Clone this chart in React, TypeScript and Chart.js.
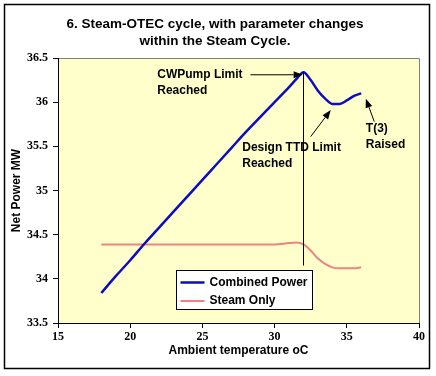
import React, { useEffect, useRef } from 'react';
import { Chart, registerables } from 'chart.js';

Chart.register(...registerables);

// ---- data ----
const temps = [18, 19, 20, 21, 22, 23, 24, 25, 26, 27, 28, 29, 30, 31, 31.5, 32, 32.5, 33, 33.5, 34, 34.5, 35, 35.5, 36];
const combinedPower = [33.84, 34.03, 34.21, 34.4, 34.58, 34.76, 34.94, 35.12, 35.3, 35.48, 35.66, 35.83, 36.0, 36.17, 36.26, 36.34, 36.25, 36.13, 36.04, 35.98, 35.98, 36.02, 36.07, 36.1];
const steamOnly = [34.39, 34.39, 34.39, 34.39, 34.39, 34.39, 34.39, 34.39, 34.39, 34.39, 34.39, 34.39, 34.39, 34.405, 34.41, 34.39, 34.32, 34.23, 34.17, 34.13, 34.12, 34.12, 34.12, 34.13];
const seriesLabels = ['Combined Power', 'Steam Only'];
const seriesColors = ['#0c0cc4', '#f08282'];

const titleLines = ['6. Steam-OTEC cycle, with parameter changes', 'within the Steam Cycle.'];
const xTitle = 'Ambient temperature oC';
const yTitle = 'Net Power MW';
const xRange = [15, 40];
const yRange = [33.5, 36.5];

// annotations (data coordinates)
const peakLineX = [32, 32];
const peakLineY = [36.34, 34.15];
const cwArrowX = [28.33, 31.94];
const cwArrowY = [36.31, 36.31];
const ttdArrowX = [32.5, 33.89];
const ttdArrowY = [35.61, 35.91];
const t3ArrowX = [36.9, 36.32];
const t3ArrowY = [35.78, 36.04];
const noteTexts = [['CWPump Limit', 'Reached'], ['Design TTD Limit', 'Reached'], ['T(3)', 'Raised']];
const noteX = [21.875, 27.76, 36.32];
const noteY = [36.308, 35.48, 35.7];
const legendPos = [23.2, 34.1]; // top-left in data coords

const SANS = '"Liberation Sans", Arial, sans-serif';
const SERIF = '"Liberation Serif", "Times New Roman", serif';

const decorPlugin = {
  id: 'decor',
  beforeDraw(chart: any) {
    const { ctx, chartArea: a, width, height } = chart;
    ctx.save();
    ctx.fillStyle = '#ffffff';
    ctx.fillRect(0, 0, width, height);
    ctx.fillStyle = '#ffffcc';
    ctx.fillRect(a.left, a.top, a.right - a.left, a.bottom - a.top);
    ctx.strokeStyle = '#000';
    ctx.lineWidth = 1.5;
    ctx.strokeRect(4.5, 4.5, 425, 364);
    // title
    ctx.fillStyle = '#000';
    ctx.font = `bold 13.5px ${SANS}`;
    ctx.textAlign = 'center';
    ctx.textBaseline = 'middle';
    ctx.fillText(titleLines[0], 215, 24);
    ctx.fillText(titleLines[1], 215, 41);
    // gray top/right plot border
    ctx.strokeStyle = '#808080';
    ctx.lineWidth = 1;
    ctx.beginPath();
    ctx.moveTo(a.left, a.top + 0.5);
    ctx.lineTo(a.right + 0.5, a.top + 0.5);
    ctx.lineTo(a.right + 0.5, a.bottom);
    ctx.stroke();
    ctx.restore();
  },
  afterDatasetsDraw(chart: any) {
    const { ctx } = chart;
    const xs = chart.scales.x;
    const ys = chart.scales.y;
    const px = (v: number) => xs.getPixelForValue(v);
    const py = (v: number) => ys.getPixelForValue(v);
    ctx.save();
    // vertical line
    ctx.strokeStyle = '#000';
    ctx.lineWidth = 1;
    ctx.beginPath();
    ctx.moveTo(Math.round(px(peakLineX[0])) + 0.5, py(peakLineY[0]));
    ctx.lineTo(Math.round(px(peakLineX[1])) + 0.5, py(peakLineY[1]));
    ctx.stroke();
    const arrow = (ax: number[], ay: number[]) => {
      const x0 = px(ax[0]), y0 = py(ay[0]), x1 = px(ax[1]), y1 = py(ay[1]);
      const ang = Math.atan2(y1 - y0, x1 - x0);
      const len = 9, half = 3.5;
      const bx = x1 - len * Math.cos(ang), by = y1 - len * Math.sin(ang);
      ctx.beginPath();
      ctx.moveTo(x0, y0);
      ctx.lineTo(bx, by);
      ctx.stroke();
      ctx.beginPath();
      ctx.moveTo(x1, y1);
      ctx.lineTo(bx + half * Math.sin(ang), by - half * Math.cos(ang));
      ctx.lineTo(bx - half * Math.sin(ang), by + half * Math.cos(ang));
      ctx.closePath();
      ctx.fillStyle = '#000';
      ctx.fill();
    };
    arrow(cwArrowX, cwArrowY);
    arrow(ttdArrowX, ttdArrowY);
    arrow(t3ArrowX, t3ArrowY);
    // notes
    ctx.fillStyle = '#000';
    ctx.font = `bold 12px ${SANS}`;
    ctx.textAlign = 'left';
    ctx.textBaseline = 'middle';
    noteTexts.forEach((lines, i) => {
      lines.forEach((t, j) => ctx.fillText(t, px(noteX[i]), py(noteY[i]) + j * 16));
    });
    // legend
    const lx = Math.round(px(legendPos[0])) + 0.5;
    const ly = Math.round(py(legendPos[1])) + 0.5;
    const lw = 136, lh = 39;
    ctx.fillStyle = '#fff';
    ctx.fillRect(lx, ly, lw, lh);
    ctx.strokeStyle = '#000';
    ctx.lineWidth = 1;
    ctx.strokeRect(lx, ly, lw, lh);
    chart.data.datasets.forEach((ds: any, i: number) => {
      const cy = ly + 12 + i * 18.5;
      ctx.strokeStyle = ds.borderColor;
      ctx.lineWidth = ds.borderWidth;
      ctx.beginPath();
      ctx.moveTo(lx + 4, cy);
      ctx.lineTo(lx + 28, cy);
      ctx.stroke();
      ctx.fillStyle = '#000';
      ctx.fillText(ds.label, lx + 33, cy);
    });
    ctx.restore();
  },
};

export default function App() {
  const ref = useRef<HTMLCanvasElement | null>(null);
  useEffect(() => {
    if (!ref.current) return;
    const chart = new Chart(ref.current, {
      type: 'line',
      data: {
        datasets: [
          {
            label: seriesLabels[0],
            data: temps.map((t, i) => ({ x: t, y: combinedPower[i] })),
            borderColor: seriesColors[0],
            borderWidth: 2.5,
            pointRadius: 0,
            cubicInterpolationMode: 'monotone',
            fill: false,
          },
          {
            label: seriesLabels[1],
            data: temps.map((t, i) => ({ x: t, y: steamOnly[i] })),
            borderColor: seriesColors[1],
            borderWidth: 2,
            pointRadius: 0,
            cubicInterpolationMode: 'monotone',
            fill: false,
          },
        ],
      },
      options: {
        responsive: false,
        animation: false,
        layout: { padding: { top: 58, right: 17, left: 0, bottom: 0 } },
        plugins: { legend: { display: false }, title: { display: false }, tooltip: { enabled: false } },
        scales: {
          x: {
            type: 'linear',
            min: xRange[0],
            max: xRange[1],
            ticks: { stepSize: 5, color: '#000', font: { family: SERIF, size: 12, weight: 'bold' }, padding: 2, maxRotation: 0 },
            grid: { drawOnChartArea: false, tickLength: 5, color: '#000' },
            border: { color: '#000', width: 1 },
            title: { display: true, text: xTitle, color: '#000', font: { family: SANS, size: 12, weight: 'bold' }, padding: { top: 0, bottom: 18 } },
            afterFit: (s: any) => { s.height = 53; },
          },
          y: {
            type: 'linear',
            min: yRange[0],
            max: yRange[1],
            ticks: { stepSize: 0.5, color: '#000', font: { family: SERIF, size: 12, weight: 'bold' }, padding: 5, callback: (v: any) => String(v) },
            grid: { drawOnChartArea: false, tickLength: 5, color: '#000' },
            border: { color: '#000', width: 1 },
            title: { display: true, text: yTitle, color: '#000', font: { family: SANS, size: 12, weight: 'bold' }, padding: { top: 9, bottom: 0 } },
            afterFit: (s: any) => { s.width = 58; },
          },
        },
      },
      plugins: [decorPlugin],
    } as any);
    return () => chart.destroy();
  }, []);
  return (
    <div style={{ position: 'fixed', left: 0, top: 0, width: 436, height: 376 }}>
      <canvas ref={ref} width={436} height={376} />
    </div>
  );
}
